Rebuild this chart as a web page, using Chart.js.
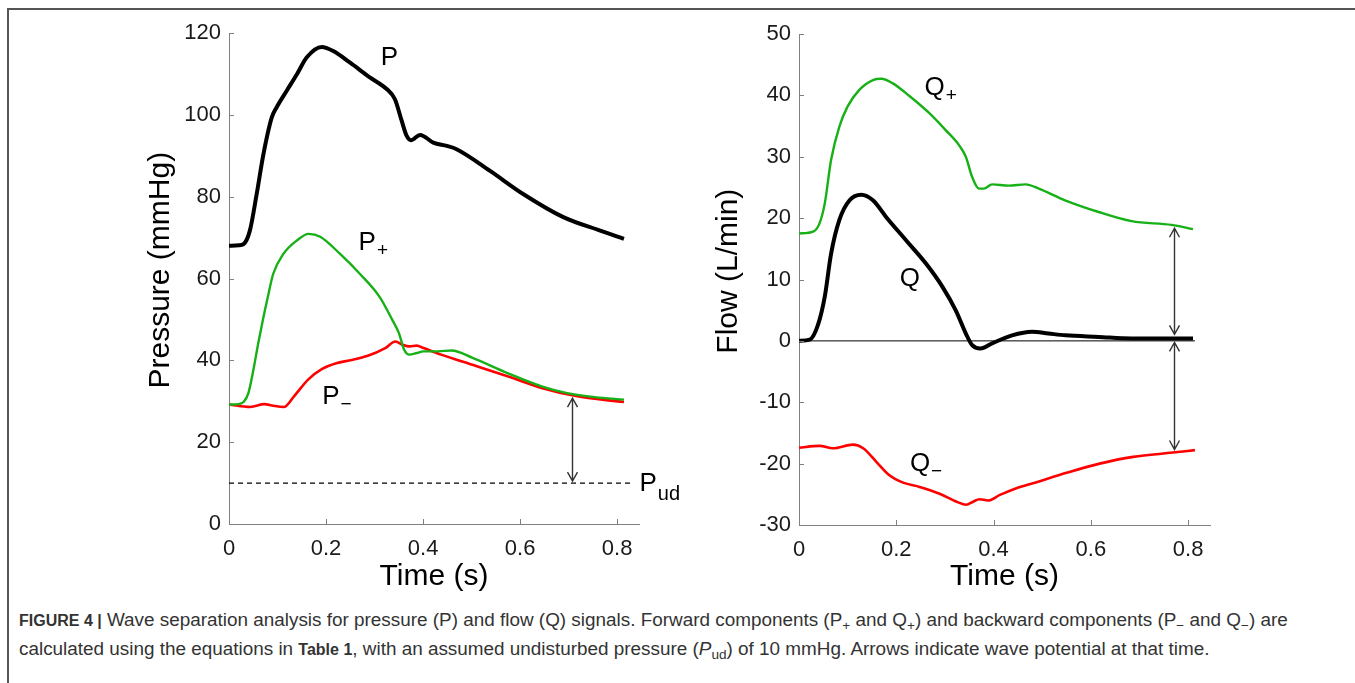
<!DOCTYPE html>
<html>
<head>
<meta charset="utf-8">
<script src="https://cdn.jsdelivr.net/npm/chart.js@4.4.1/dist/chart.umd.min.js"></script>
<style>
  html, body { margin: 0; padding: 0; background: #fff; overflow: hidden; }
  body { width: 1355px; height: 683px; position: relative; }
  #frame { position: absolute; left: 7px; top: 8px; width: 1400px; height: 700px;
           border-top: 2px solid #555; border-left: 2px solid #555; }
  #left-chart { position: absolute; left: 100px; top: 0; }
  #right-chart { position: absolute; left: 700px; top: 0; }
  #caption { position: absolute; left: 19px; top: 606px; font: 18.9px 'Liberation Sans', Arial, sans-serif;
             color: #333; line-height: 28px; white-space: nowrap; }
  #caption b { font-size: 16px; }
  #caption sub { font-size: 0.72em; line-height: 0; vertical-align: -0.3em; }
</style>
</head>
<body>
<div id="frame"></div>
<canvas id="left-chart" width="600" height="600"></canvas>
<canvas id="right-chart" width="600" height="600"></canvas>
<div id="caption"><b>FIGURE 4 |</b> Wave separation analysis for pressure (P) and flow (Q) signals. Forward components (P<sub>+</sub> and Q<sub>+</sub>) and backward components (P<sub>−</sub> and Q<sub>−</sub>) are<br>calculated using the equations in <b>Table 1</b>, with an assumed undisturbed pressure (<i>P</i><sub>ud</sub>) of 10 mmHg. Arrows indicate wave potential at that time.</div>

<script>
// --- data ---
const xTicks = [0, 0.2, 0.4, 0.6, 0.8];
const pressureTicks = [0, 20, 40, 60, 80, 100, 120];
const flowTicks = [-30, -20, -10, 0, 10, 20, 30, 40, 50];

// pressure panel
const pTime = [0, 0.02, 0.03, 0.043, 0.057, 0.071, 0.088, 0.098, 0.119, 0.14, 0.16, 0.191, 0.215, 0.249, 0.291, 0.325, 0.342, 0.356, 0.366, 0.375, 0.394, 0.421, 0.449, 0.469, 0.538, 0.607, 0.689, 0.765, 0.814];
const pVals = [68, 68.1, 68.4, 71.7, 80.6, 90.4, 99.3, 101.8, 105.9, 109.9, 114, 116.6, 115.6, 112.8, 109.1, 106.3, 103.8, 98.5, 94.9, 93.8, 95.1, 93.2, 92.4, 91.6, 86.3, 80.6, 75, 71.7, 69.7];

const pPlusTime = [0, 0.02, 0.03, 0.04, 0.05, 0.06, 0.07, 0.08, 0.091, 0.112, 0.14, 0.164, 0.188, 0.229, 0.27, 0.311, 0.336, 0.35, 0.361, 0.372, 0.387, 0.401, 0.43, 0.459, 0.502, 0.574, 0.646, 0.697, 0.754, 0.814];
const pPlusVals = [29.2, 29.3, 29.8, 32, 37.5, 44, 50, 55.5, 61.1, 66, 69.3, 70.9, 70.2, 66, 61.1, 55.4, 50, 46.7, 42.6, 41.4, 41.8, 42.2, 42.2, 42.4, 40.6, 36.9, 33.6, 32, 31, 30.4];

const pMinusTime = [0, 0.044, 0.073, 0.091, 0.113, 0.134, 0.163, 0.192, 0.221, 0.25, 0.286, 0.322, 0.343, 0.358, 0.372, 0.387, 0.401, 0.437, 0.502, 0.574, 0.646, 0.718, 0.814];
const pMinusVals = [29.2, 28.6, 29.3, 28.9, 28.6, 31.2, 35.3, 37.9, 39.3, 40, 41.1, 43, 44.6, 43.8, 43.4, 43.6, 43, 41.4, 38.9, 36.1, 33.2, 31.2, 29.8];

const pudTime = [0, 0.833];
const pudVals = [10, 10];

// flow panel
const qPlusTime = [0, 0.029, 0.042, 0.053, 0.066, 0.083, 0.1, 0.124, 0.152, 0.169, 0.192, 0.227, 0.268, 0.302, 0.329, 0.343, 0.356, 0.37, 0.38, 0.397, 0.431, 0.466, 0.493, 0.547, 0.616, 0.684, 0.766, 0.81];
const qPlusVals = [17.5, 17.8, 19.1, 22.4, 29.5, 34.9, 38.2, 40.9, 42.5, 42.7, 42, 39.9, 37.1, 34.3, 31.9, 30, 26.7, 24.8, 24.8, 25.5, 25.3, 25.5, 24.8, 22.9, 21, 19.5, 18.9, 18.2];

const qTime = [0, 0.022, 0.039, 0.053, 0.066, 0.083, 0.104, 0.128, 0.152, 0.179, 0.22, 0.261, 0.295, 0.322, 0.343, 0.356, 0.373, 0.397, 0.438, 0.479, 0.513, 0.548, 0.616, 0.684, 0.81];
const qVals = [0, 0.2, 2.6, 7.2, 14.2, 19.7, 22.9, 23.8, 22.9, 20.2, 16.4, 12.6, 8.8, 5, 1.2, -0.7, -1.25, -0.4, 0.9, 1.5, 1.2, 0.9, 0.65, 0.4, 0.4];

const qMinusTime = [0, 0.042, 0.07, 0.111, 0.132, 0.159, 0.186, 0.214, 0.248, 0.289, 0.324, 0.344, 0.358, 0.371, 0.389, 0.413, 0.447, 0.481, 0.55, 0.618, 0.687, 0.769, 0.814];
const qMinusVals = [-17.4, -17.1, -17.5, -16.9, -17.5, -19.7, -21.9, -23.1, -23.8, -24.9, -26.2, -26.7, -26.2, -25.8, -26, -25.1, -24, -23.2, -21.5, -20, -18.9, -18.2, -17.8];

const zeroTime = [0, 0.814];
const zeroVals = [0, 0];

// curve labels: [text, subscript, time, value]
const pressureLabels = [['P', '', 0.313, 114], ['P', '+', 0.267, 68.8], ['P', '\u2212', 0.192, 31.2], ['P', 'ud', 0.846, 9.8]];
const flowLabels = [['Q', '+', 0.258, 41.2], ['Q', '', 0.207, 10.1], ['Q', '\u2212', 0.228, -20]];

// wave potential arrows
const pressureArrowTime = 0.707;
const flowArrowTime = 0.77;

const FONT = "'Liberation Sans', Arial, Helvetica, sans-serif";
const GREEN = '#17b017';
const RED = '#ff0000';
const TEXT = '#1a1a1a';

Chart.defaults.font.family = FONT;
Chart.defaults.color = TEXT;

function pairs(xs, ys) {
    return xs.map((x, i) => ({ x: x, y: ys[i] }));
}

// linear interpolation in a series, used to put arrow tips on the curves
function valueAt(xs, ys, t) {
    for (let i = 1; i < xs.length; i++) {
        if (t <= xs[i]) {
            const f = (t - xs[i - 1]) / (xs[i] - xs[i - 1]);
            return ys[i - 1] + f * (ys[i] - ys[i - 1]);
        }
    }
    return ys[ys.length - 1];
}

function series(xs, ys, color, width, extra) {
    return Object.assign({
        data: pairs(xs, ys),
        borderColor: color,
        borderWidth: width,
        pointRadius: 0,
        fill: false,
        cubicInterpolationMode: 'monotone'
    }, extra || {});
}

// MATLAB-style ticks pointing into the plot
const inwardTicks = {
    id: 'inwardTicks',
    afterDraw(chart) {
        const { ctx, chartArea: a, scales: { x, y } } = chart;
        ctx.save();
        ctx.strokeStyle = '#808080';
        ctx.lineWidth = 1;
        ctx.beginPath();
        x.ticks.forEach(t => {
            const px = Math.round(x.getPixelForValue(t.value)) + 0.5;
            ctx.moveTo(px, a.bottom);
            ctx.lineTo(px, a.bottom - 5);
        });
        y.ticks.forEach(t => {
            const py = Math.round(y.getPixelForValue(t.value)) + 0.5;
            ctx.moveTo(a.left, py);
            ctx.lineTo(a.left + 5, py);
        });
        ctx.stroke();
        ctx.restore();
    }
};

function drawLabel(ctx, px, py, main, sub) {
    ctx.save();
    ctx.fillStyle = '#000';
    ctx.textAlign = 'left';
    ctx.textBaseline = 'middle';
    ctx.font = '26px ' + FONT;
    ctx.fillText(main, px, py);
    if (sub) {
        const w = ctx.measureText(main).width;
        ctx.font = (sub === 'ud' ? '20px ' : '19px ') + FONT;
        ctx.fillText(sub, px + w + 1, py + (sub === 'ud' ? 11 : 8));
    }
    ctx.restore();
}

function drawArrow(ctx, px, y1, y2) {
    const head = 9, half = 5;
    const dir = y2 > y1 ? 1 : -1;
    ctx.save();
    ctx.strokeStyle = '#333';
    ctx.lineWidth = 1.4;
    ctx.beginPath();
    ctx.moveTo(px, y1);
    ctx.lineTo(px, y2);
    ctx.moveTo(px - half, y1 + dir * head);
    ctx.lineTo(px, y1);
    ctx.lineTo(px + half, y1 + dir * head);
    ctx.moveTo(px - half, y2 - dir * head);
    ctx.lineTo(px, y2);
    ctx.lineTo(px + half, y2 - dir * head);
    ctx.stroke();
    ctx.restore();
}

function annotations(labels, arrows) {
    return {
        id: 'annotations',
        afterDraw(chart) {
            const { ctx, scales: { x, y } } = chart;
            labels.forEach(l => drawLabel(ctx, x.getPixelForValue(l[2]), y.getPixelForValue(l[3]), l[0], l[1]));
            arrows.forEach(a => {
                const px = Math.round(x.getPixelForValue(a.t)) + 0.5;
                drawArrow(ctx, px, y.getPixelForValue(a.from) + a.gapFrom, y.getPixelForValue(a.to) + a.gapTo);
            });
        }
    };
}

function axes(yTicks, yMin, yMax, yTitle, yWidth, xHeight, yTitlePad) {
    const tickFont = { size: 22, family: FONT };
    const titleFont = { size: 30, family: FONT };
    return {
        x: {
            type: 'linear', min: 0, max: 0.845,
            afterBuildTicks: s => { s.ticks = xTicks.map(v => ({ value: v })); },
            afterFit: s => { s.height = xHeight; },
            grid: { display: true, drawOnChartArea: false, drawTicks: false },
            border: { display: true, color: '#808080', width: 1 },
            ticks: { font: tickFont, color: TEXT, padding: 12, maxRotation: 0, callback: v => String(v) },
            title: { display: true, text: 'Time (s)', font: titleFont, color: '#000', padding: { top: 0, bottom: 5 } }
        },
        y: {
            type: 'linear', min: yMin, max: yMax,
            afterBuildTicks: s => { s.ticks = yTicks.map(v => ({ value: v })); },
            afterFit: s => { s.width = yWidth; },
            grid: { display: true, drawOnChartArea: false, drawTicks: false },
            border: { display: true, color: '#808080', width: 1 },
            ticks: { font: tickFont, color: TEXT, padding: 8, callback: v => String(v) },
            // two leading spaces nudge the rotated title up, as in the figure
            title: { display: true, text: '  ' + yTitle, font: titleFont, color: '#000', padding: { top: yTitlePad, bottom: 0 } }
        }
    };
}

function baseOptions(scales, padding) {
    return {
        responsive: false,
        animation: false,
        devicePixelRatio: 1,
        layout: { padding: padding },
        plugins: { legend: { display: false }, tooltip: { enabled: false } },
        scales: scales
    };
}

// --- left panel: pressure ---
const pmAtArrow = valueAt(pMinusTime, pMinusVals, pressureArrowTime);
new Chart(document.getElementById('left-chart'), {
    type: 'line',
    data: {
        datasets: [
            series(pudTime, pudVals, '#000', 1.2, { borderDash: [5, 4], cubicInterpolationMode: 'default', tension: 0 }),
            series(pPlusTime, pPlusVals, GREEN, 2.4),
            series(pMinusTime, pMinusVals, RED, 2.6),
            series(pTime, pVals, '#000', 4)
        ]
    },
    options: baseOptions(axes(pressureTicks, 0, 120, 'Pressure (mmHg)', 129, 76, 43), { top: 33, right: 61, left: 0, bottom: 0 }),
    plugins: [inwardTicks, annotations(pressureLabels, [
        { t: pressureArrowTime, from: pudVals[0], to: pmAtArrow, gapFrom: -2, gapTo: 3 }
    ])]
});

// --- right panel: flow ---
const qAtArrow = valueAt(qTime, qVals, flowArrowTime);
const qpAtArrow = valueAt(qPlusTime, qPlusVals, flowArrowTime);
const qmAtArrow = valueAt(qMinusTime, qMinusVals, flowArrowTime);
new Chart(document.getElementById('right-chart'), {
    type: 'line',
    data: {
        datasets: [
            series(zeroTime, zeroVals, '#000', 1, { cubicInterpolationMode: 'default', tension: 0 }),
            series(qPlusTime, qPlusVals, GREEN, 2.4),
            series(qMinusTime, qMinusVals, RED, 2.6),
            series(qTime, qVals, '#000', 4)
        ]
    },
    options: baseOptions(axes(flowTicks, -30, 50, 'Flow (L/min)', 99, 75, 11), { top: 34, right: 90, left: 0, bottom: 0 }),
    plugins: [inwardTicks, annotations(flowLabels, [
        { t: flowArrowTime, from: qAtArrow, to: qpAtArrow, gapFrom: -4, gapTo: 3 },
        { t: flowArrowTime, from: qAtArrow, to: qmAtArrow, gapFrom: 4, gapTo: -3 }
    ])]
});
</script>
</body>
</html>
